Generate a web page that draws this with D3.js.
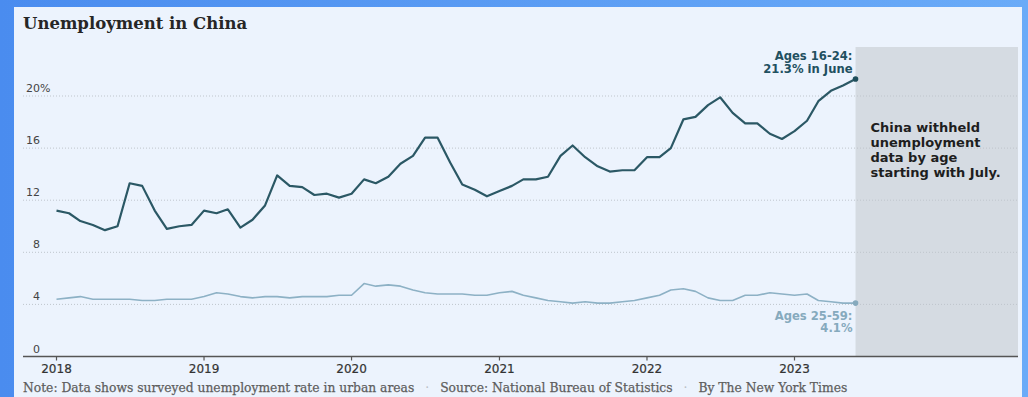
<!DOCTYPE html>
<html>
<head>
<meta charset="utf-8">
<script src="https://cdn.jsdelivr.net/npm/d3@7"></script>
<style>
  html, body { margin: 0; padding: 0; background: #4f93f2; }
  svg { display: block; }
</style>
</head>
<body>
<svg id="chart" width="1028" height="397"></svg>
<script>
// Surveyed urban unemployment rate (%), monthly, Jan 2018 – Jun 2023
const startYear = 2018;
const youth = [
  11.2, 11.0, 10.4, 10.1, 9.7, 10.0, 13.3, 13.1, 11.2, 9.8, 10.0, 10.1,   // 2018
  11.2, 11.0, 11.3, 9.9, 10.5, 11.6, 13.9, 13.1, 13.0, 12.4, 12.5, 12.2,  // 2019
  12.5, 13.6, 13.3, 13.8, 14.8, 15.4, 16.8, 16.8, 14.9, 13.2, 12.8, 12.3, // 2020
  12.7, 13.1, 13.6, 13.6, 13.8, 15.4, 16.2, 15.3, 14.6, 14.2, 14.3, 14.3, // 2021
  15.3, 15.3, 16.0, 18.2, 18.4, 19.3, 19.9, 18.7, 17.9, 17.9, 17.1, 16.7, // 2022
  17.3, 18.1, 19.6, 20.4, 20.8, 21.3                                      // 2023
];
const adult = [
  4.4, 4.5, 4.6, 4.4, 4.4, 4.4, 4.4, 4.3, 4.3, 4.4, 4.4, 4.4,  // 2018
  4.6, 4.9, 4.8, 4.6, 4.5, 4.6, 4.6, 4.5, 4.6, 4.6, 4.6, 4.7,  // 2019
  4.7, 5.6, 5.4, 5.5, 5.4, 5.1, 4.9, 4.8, 4.8, 4.8, 4.7, 4.7,  // 2020
  4.9, 5.0, 4.7, 4.5, 4.3, 4.2, 4.1, 4.2, 4.1, 4.1, 4.2, 4.3,  // 2021
  4.5, 4.7, 5.1, 5.2, 5.0, 4.5, 4.3, 4.3, 4.7, 4.7, 4.9, 4.8,  // 2022
  4.7, 4.8, 4.3, 4.2, 4.1, 4.1                                 // 2023
];
const yTicks = [0, 4, 8, 12, 16, 20];
const xTickYears = [2018, 2019, 2020, 2021, 2022, 2023];

const titleText = "Unemployment in China";
const youthLabel = ["Ages 16-24:", "21.3% in June"];
const adultLabel = ["Ages 25-59:", "4.1%"];
const gapNote = ["China withheld", "unemployment", "data by age", "starting with July."];
const footerParts = [
  "Note: Data shows surveyed unemployment rate in urban areas",
  "Source: National Bureau of Statistics",
  "By The New York Times"
];

const W = 1028, H = 397;
const sans = "'DejaVu Sans', Verdana, sans-serif";
const serif = "'DejaVu Serif', Georgia, serif";

const dates = youth.map((_, i) => new Date(startYear, i, 1));
const youthData = youth.map((v, i) => ({ date: dates[i], v }));
const adultData = adult.map((v, i) => ({ date: dates[i], v }));

const svg = d3.select("#chart");

// frame and panel
const defs = svg.append("defs");
const grad = defs.append("linearGradient").attr("id", "frame").attr("x1", 0).attr("x2", 1).attr("y1", 0).attr("y2", 0);
grad.append("stop").attr("offset", "0%").attr("stop-color", "#4a8cef");
grad.append("stop").attr("offset", "100%").attr("stop-color", "#6aabf8");
svg.append("rect").attr("width", W).attr("height", H).attr("fill", "url(#frame)");
svg.append("rect").attr("x", 14).attr("y", 7).attr("width", 1008).attr("height", H - 7).attr("fill", "#ecf3fd");

const plotLeft = 23, plotRight = 1018, bandTop = 47;

const x = d3.scaleTime()
  .domain([new Date(2018, 0, 1), new Date(2023, 0, 1)])
  .range([56.5, 794.5]);
const y = d3.scaleLinear().domain([0, 20]).range([356.5, 96]);

// title
svg.append("text")
  .attr("x", 23).attr("y", 29)
  .attr("font-family", serif).attr("font-weight", "bold").attr("font-size", 16.5)
  .attr("fill", "#262626")
  .text(titleText);

// period with no age breakdown
const lastDate = dates[dates.length - 1];
svg.append("rect")
  .attr("x", x(lastDate)).attr("y", bandTop)
  .attr("width", plotRight - x(lastDate)).attr("height", y(0) - bandTop)
  .attr("fill", "#d5dbe2");

// gridlines
svg.append("g").selectAll("line")
  .data(yTicks.filter(t => t > 0))
  .join("line")
  .attr("x1", plotLeft).attr("x2", plotRight)
  .attr("y1", d => y(d)).attr("y2", d => y(d))
  .attr("stroke", "#bfc5cc").attr("stroke-width", 1).attr("stroke-dasharray", "1,2");

// y labels
const yl = svg.append("g").attr("font-family", sans).attr("font-size", 11).attr("fill", "#444");
yl.selectAll("text.num")
  .data(yTicks)
  .join("text").attr("class", "num")
  .attr("x", 40).attr("y", d => y(d) - 4)
  .attr("text-anchor", "end")
  .text(d => d);
yl.append("text")
  .attr("x", 40).attr("y", y(d3.max(yTicks)) - 4)
  .text("%");

// x axis
const axisG = svg.append("g").attr("transform", `translate(0,${y(0)})`);
axisG.append("line").attr("x1", plotLeft).attr("x2", plotRight)
  .attr("stroke", "#555").attr("stroke-width", 1.5);
const xt = axisG.selectAll("g.tick")
  .data(xTickYears.map(yr => new Date(yr, 0, 1)))
  .join("g").attr("class", "tick")
  .attr("transform", d => `translate(${x(d)},0)`);
xt.append("line").attr("y1", 0).attr("y2", 4).attr("stroke", "#555").attr("stroke-width", 1.2);
xt.append("text")
  .attr("y", 16.5).attr("text-anchor", "middle")
  .attr("font-family", sans).attr("font-size", 12).attr("fill", "#333")
  .attr("stroke", "#333").attr("stroke-width", 0.2)
  .text(d => d.getFullYear());

// lines
const line = d3.line().x(d => x(d.date)).y(d => y(d.v));
svg.append("path").datum(adultData)
  .attr("d", line).attr("fill", "none")
  .attr("stroke", "#8db1c5").attr("stroke-width", 1.6).attr("stroke-linejoin", "round");
svg.append("path").datum(youthData)
  .attr("d", line).attr("fill", "none")
  .attr("stroke", "#2b5865").attr("stroke-width", 2.2).attr("stroke-linejoin", "round");

// end points
const youthEnd = youthData[youthData.length - 1];
const adultEnd = adultData[adultData.length - 1];
svg.append("circle").attr("cx", x(youthEnd.date)).attr("cy", y(youthEnd.v)).attr("r", 2.8).attr("fill", "#1f4e5b");
svg.append("circle").attr("cx", x(adultEnd.date)).attr("cy", y(adultEnd.v)).attr("r", 2.8).attr("fill", "#86aabd");

// end labels
const yLab = svg.append("text")
  .attr("font-family", sans).attr("font-weight", "bold").attr("font-size", 11.6)
  .attr("fill", "#1f5060").attr("text-anchor", "end");
youthLabel.forEach((t, i) => {
  yLab.append("tspan").attr("x", x(youthEnd.date) - 3).attr("y", y(youthEnd.v) - 19 + i * 12.5).text(t);
});
const aLab = svg.append("text")
  .attr("font-family", sans).attr("font-weight", "bold").attr("font-size", 11.6)
  .attr("fill", "#86aabd").attr("text-anchor", "end");
adultLabel.forEach((t, i) => {
  aLab.append("tspan").attr("x", x(adultEnd.date) - 3).attr("y", y(adultEnd.v) + 17 + i * 12).text(t);
});

// note inside the band
const gn = svg.append("text")
  .attr("font-family", sans).attr("font-weight", "bold").attr("font-size", 13)
  .attr("fill", "#1e1e1e");
gapNote.forEach((t, i) => {
  gn.append("tspan").attr("x", x(lastDate) + 15).attr("y", 132 + i * 15).text(t);
});

// footer
const ft = svg.append("text")
  .attr("x", 23).attr("y", 392)
  .attr("font-family", serif).attr("font-size", 12.3).attr("fill", "#5e5e5e")
  .attr("stroke", "#5e5e5e").attr("stroke-width", 0.25);
footerParts.forEach((t, i) => {
  if (i > 0) {
    ft.append("tspan").attr("dx", 11).attr("fill", "#b9bec4").attr("stroke", "none").text("·");
    ft.append("tspan").attr("dx", 11).text(t);
  } else {
    ft.append("tspan").text(t);
  }
});
</script>
</body>
</html>
